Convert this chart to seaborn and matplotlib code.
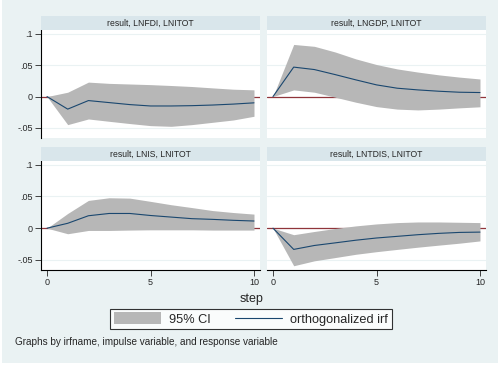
import matplotlib
matplotlib.use("Agg")
import matplotlib.pyplot as plt
import matplotlib.patches as mpatches
from matplotlib.lines import Line2D
import seaborn as sns
import pandas as pd

# irf data
steps = list(range(11))

titles = ['result, LNFDI, LNITOT', 'result, LNGDP, LNITOT',
          'result, LNIS, LNITOT', 'result, LNTDIS, LNITOT']

irf_fdi = [0, -0.020, -0.0064, -0.0096, -0.0128, -0.015, -0.015, -0.0145, -0.0135, -0.012, -0.010]
lo_fdi = [0, -0.0447, -0.0357, -0.0394, -0.043, -0.0463, -0.0474, -0.0447, -0.041, -0.0373, -0.0314]
hi_fdi = [0, 0.0069, 0.023, 0.021, 0.020, 0.019, 0.0176, 0.016, 0.0138, 0.0117, 0.0107]

irf_gdp = [0, 0.0469, 0.043, 0.035, 0.0266, 0.0186, 0.0133, 0.0106, 0.0085, 0.0069, 0.0064]
lo_gdp = [0, 0.0106, 0.0069, -0.001, -0.009, -0.016, -0.020, -0.0213, -0.020, -0.018, -0.0163]
hi_gdp = [0, 0.083, 0.080, 0.071, 0.060, 0.051, 0.044, 0.039, 0.0346, 0.031, 0.028]

irf_is = [0, 0.0077, 0.0196, 0.0232, 0.0232, 0.020, 0.0175, 0.015, 0.0139, 0.0124, 0.0113]
lo_is = [0, -0.0088, -0.0036, -0.0036, -0.003, -0.0026, -0.0026, -0.0026, -0.003, -0.003, -0.003]
hi_is = [0, 0.0232, 0.0438, 0.048, 0.0474, 0.0423, 0.037, 0.0325, 0.0278, 0.0247, 0.0222]

irf_tdis = [0, -0.0335, -0.0273, -0.0232, -0.019, -0.0155, -0.0129, -0.0103, -0.0082, -0.0067, -0.0062]
lo_tdis = [0, -0.0593, -0.0515, -0.0464, -0.0412, -0.0371, -0.0335, -0.030, -0.0268, -0.0237, -0.0201]
hi_tdis = [0, -0.0103, -0.0052, -0.0005, 0.0036, 0.0067, 0.0088, 0.0098, 0.0098, 0.0093, 0.0088]

series = [(irf_fdi, lo_fdi, hi_fdi), (irf_gdp, lo_gdp, hi_gdp),
          (irf_is, lo_is, hi_is), (irf_tdis, lo_tdis, hi_tdis)]

bg = '#eaf2f3'
strip = '#d9e6eb'
ci_col = '#b7b7b7'
line_col = '#1a476f'
zero_col = '#90353b'

sns.set_style('white')
plt.rcParams['font.family'] = ['Liberation Sans', 'DejaVu Sans']

W, H = 504, 369
fig = plt.figure(figsize=(W / 100, H / 100), dpi=100, facecolor='white')
fig.patches.append(mpatches.Rectangle((2 / W, 1 - 363 / H), 496 / W, 363 / H,
                                      transform=fig.transFigure, facecolor=bg,
                                      edgecolor='none', zorder=-5))

# panel boxes in pixels: left, right, strip top, plot top, plot bottom
boxes = [(41, 260, 16, 30, 138), (267, 486, 16, 30, 138),
         (41, 260, 147, 161, 270), (267, 486, 147, 161, 270)]

for i, (x0, x1, s0, p0, p1) in enumerate(boxes):
    irf, lo, hi = series[i]
    df = pd.DataFrame({'step': steps, 'irf': irf})
    ax = fig.add_axes([x0 / W, 1 - p1 / H, (x1 - x0) / W, (p1 - p0) / H])
    ax.set_facecolor('white')
    for y in [-0.05, 0, 0.05, 0.1]:
        ax.axhline(y, color=bg, lw=0.8, zorder=0)
    ax.axhline(0, color=zero_col, lw=0.9, zorder=1)
    ax.fill_between(steps, lo, hi, color=ci_col, lw=0, zorder=2)
    sns.lineplot(data=df, x='step', y='irf', ax=ax, color=line_col, lw=0.8, zorder=3)
    ax.set_xlim(-0.29, 10.29)
    ax.set_ylim(-0.066, 0.106)
    ax.set_xlabel('')
    ax.set_ylabel('')
    for s in ax.spines.values():
        s.set_visible(False)
    ax.set_yticks([-0.05, 0, 0.05, 0.1])
    ax.set_xticks([0, 5, 10])
    if i % 2 == 0:
        ax.spines['left'].set_visible(True)
        ax.spines['left'].set_color('black')
        ax.spines['left'].set_linewidth(0.8)
        ax.set_yticklabels(['-.05', '0', '.05', '.1'])
        ax.tick_params(axis='y', left=True, length=4, width=0.6, labelsize=6.5, pad=2)
    else:
        ax.tick_params(axis='y', left=False, labelleft=False)
    if i >= 2:
        ax.spines['bottom'].set_visible(True)
        ax.spines['bottom'].set_color('black')
        ax.spines['bottom'].set_linewidth(0.8)
        ax.set_xticklabels(['0', '5', '10'])
        ax.tick_params(axis='x', bottom=True, length=4, width=0.6, labelsize=6.5, pad=2)
    else:
        ax.tick_params(axis='x', bottom=False, labelbottom=False)

    sax = fig.add_axes([x0 / W, 1 - p0 / H, (x1 - x0) / W, (p0 - s0) / H])
    sax.set_facecolor(strip)
    sax.set_xticks([])
    sax.set_yticks([])
    for s in sax.spines.values():
        s.set_visible(False)
    sax.text(0.5, 0.5, titles[i], ha='center', va='center', fontsize=6.2,
             transform=sax.transAxes)

fig.text(252 / W, 1 - 299 / H, 'step', ha='center', va='center', fontsize=9)

handles = [mpatches.Patch(facecolor=ci_col, edgecolor='none', label='95% CI'),
           Line2D([], [], color=line_col, lw=0.8, label='orthogonalized irf')]
leg = fig.legend(handles=handles, loc='center', bbox_to_anchor=(251 / W, 1 - 319 / H),
                 ncol=2, fontsize=9.2, frameon=True, fancybox=False, handlelength=3.7,
                 handleheight=1.0, columnspacing=1.9, handletextpad=0.6, borderpad=0.3)
leg.get_frame().set_edgecolor('black')
leg.get_frame().set_linewidth(0.8)
leg.get_frame().set_facecolor('white')

fig.text(15 / W, 1 - 342 / H, 'Graphs by irfname, impulse variable, and response variable',
         ha='left', va='center', fontsize=7.2)

fig.savefig('out.png', dpi=100, facecolor=fig.get_facecolor())
